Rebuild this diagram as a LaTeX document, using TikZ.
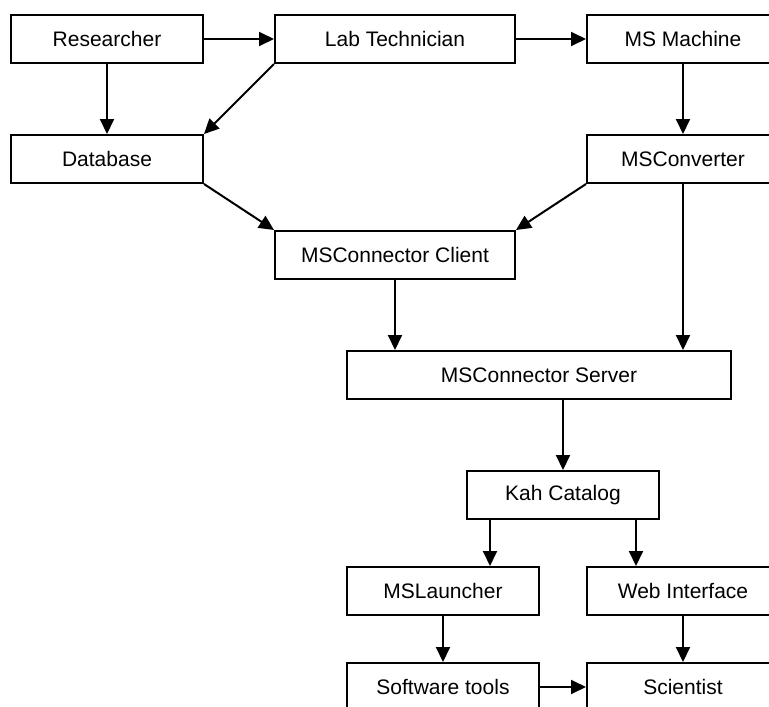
\documentclass[tikz,border=0pt]{standalone}
\usepackage{fontspec}
\setmainfont{Liberation Sans}
\usetikzlibrary{arrows.meta}
\begin{document}
\begin{tikzpicture}[x=0.75pt,y=-0.75pt,
  box/.style={draw,line width=1.5pt,rectangle,inner sep=0pt,minimum height=36pt,minimum width=144pt,
    font=\fontsize{15.75}{19}\selectfont},
  wide/.style={minimum width=180pt},
  wider/.style={minimum width=288pt},
  conn/.style={line width=1.5pt,-{Triangle[length=11.25pt,width=10.5pt]}}]
\useasboundingbox (0,0) rectangle (769,707);
\clip (0,0) rectangle (769,707);
\node[box] (res) at (107,39) {Researcher};
\node[box,wide] (lab) at (395,39) {Lab Technician};
\node[box] (msm) at (683,39) {MS Machine};
\node[box] (db) at (107,159) {Database};
\node[box] (conv) at (683,159) {MSConverter};
\node[box,wide] (client) at (395,255) {MSConnector Client};
\node[box,wider] (server) at (539,375) {MSConnector Server};
\node[box] (kah) at (563,495) {Kah Catalog};
\node[box] (launch) at (443,591) {MSLauncher};
\node[box] (web) at (683,591) {Web Interface};
\node[box] (soft) at (443,687) {Software tools};
\node[box] (sci) at (683,687) {Scientist};
\coordinate (kl) at ([xshift=18pt]kah.south west);
\coordinate (kr) at ([xshift=-18pt]kah.south east);
\draw[conn] (res.east) -- (lab.west);
\draw[conn] (lab.east) -- (msm.west);
\draw[conn] (res.south) -- (db.north);
\draw[conn] (lab.south west) -- (db.north east);
\draw[conn] (msm.south) -- (conv.north);
\draw[conn] (db.south east) -- (client.north west);
\draw[conn] (conv.south west) -- (client.north east);
\draw[conn] (conv.south) -- (server.north -| conv.south);
\draw[conn] (client.south) -- (server.north -| client.south);
\draw[conn] (server.south -| kah.north) -- (kah.north);
\draw[conn] (kl) -- (launch.north -| kl);
\draw[conn] (kr) -- (web.north -| kr);
\draw[conn] (launch.south) -- (soft.north);
\draw[conn] (web.south) -- (sci.north);
\draw[conn] (soft.east) -- (sci.west);
\end{tikzpicture}
\end{document}
